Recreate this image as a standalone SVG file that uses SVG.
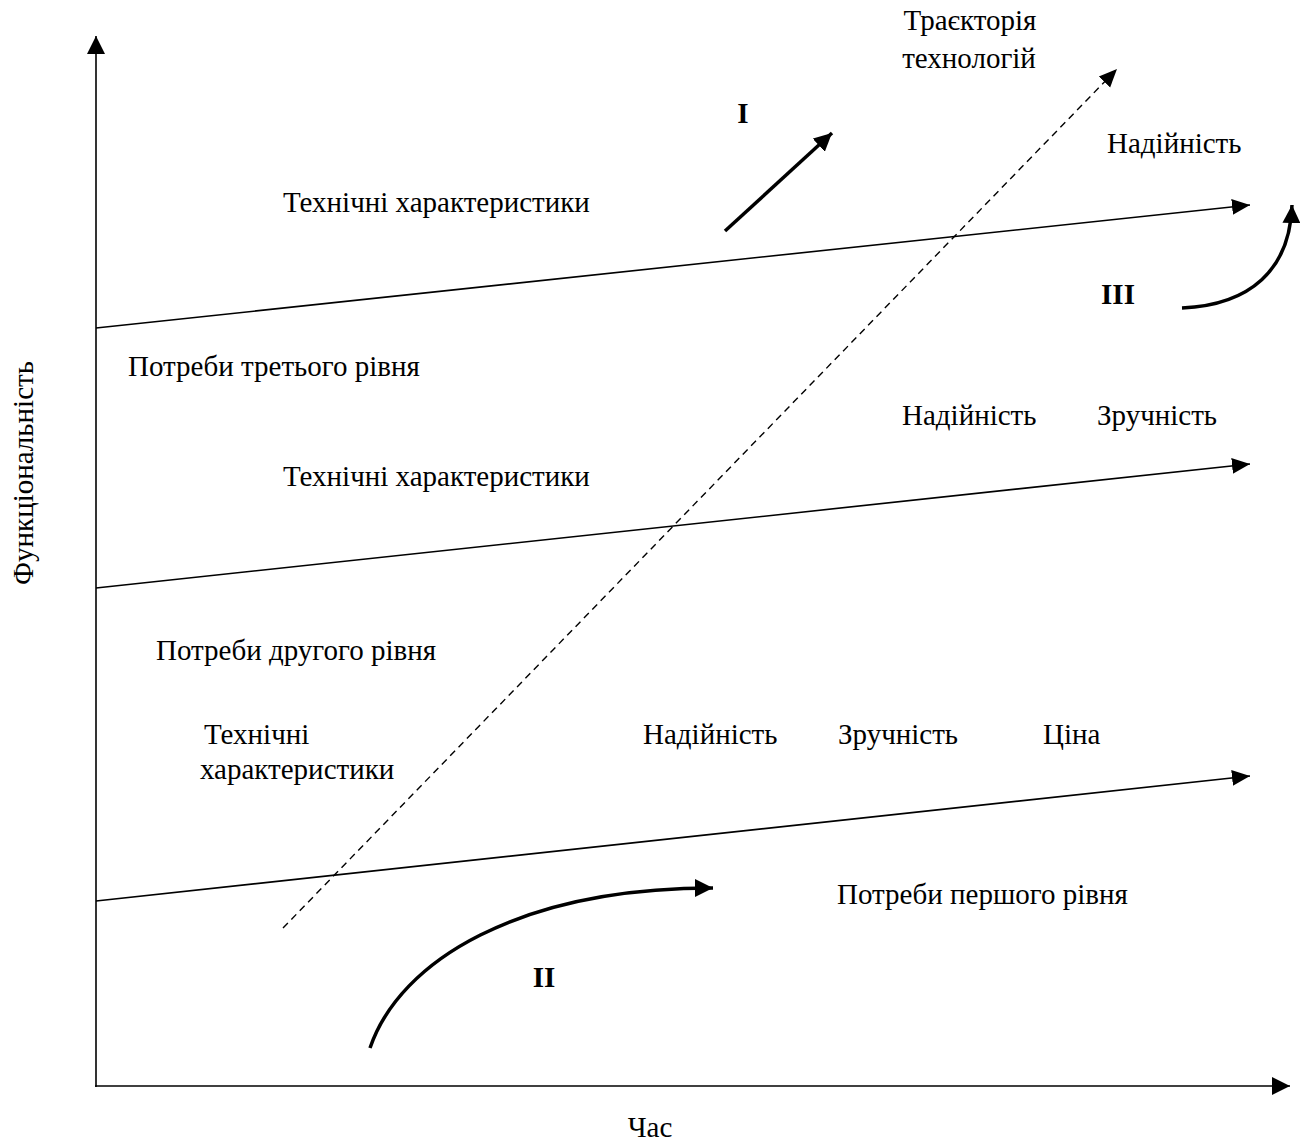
<svg xmlns="http://www.w3.org/2000/svg" width="1305" height="1142" viewBox="0 0 1305 1142">
<style>
text{font-family:"Liberation Serif","Times New Roman",serif;font-size:29px;fill:#000}
.b{font-weight:bold}
.ln{stroke:#000;stroke-width:1.6;fill:none}
.th{stroke:#000;stroke-width:3.5;fill:none}
.ds{stroke:#000;stroke-width:1.4;fill:none;stroke-dasharray:7,5}
</style>
<defs>
<marker id="ah" markerUnits="userSpaceOnUse" markerWidth="18" markerHeight="18" refX="16" refY="8" orient="auto" viewBox="0 0 16 16"><path d="M0,0 L16,8 L0,16 Z" fill="#000"/></marker>
<marker id="ahs" markerUnits="userSpaceOnUse" markerWidth="18" markerHeight="18" refX="16" refY="8" orient="auto" viewBox="0 0 16 16"><path d="M0,1 L16,8 L0,15 Z" fill="#000"/></marker>
</defs>
<rect width="1305" height="1142" fill="#fff"/>
<g id="connectors">
<line id="y-axis" class="ln" x1="96" y1="1087" x2="96" y2="36" marker-end="url(#ah)"/>
<line id="x-axis" class="ln" x1="95" y1="1086" x2="1290" y2="1086" marker-end="url(#ah)"/>
<line id="level3" class="ln" x1="96" y1="328" x2="1250" y2="205" marker-end="url(#ahs)"/>
<line id="level2" class="ln" x1="96" y1="588" x2="1250" y2="464" marker-end="url(#ahs)"/>
<line id="level1" class="ln" x1="96" y1="901" x2="1250" y2="776" marker-end="url(#ahs)"/>
<line id="trajectory" class="ds" x1="283" y1="928" x2="1117" y2="69" marker-end="url(#ahs)"/>
<line id="arrow-I" class="th" x1="725" y1="231" x2="832" y2="133" marker-end="url(#ah)"/>
<path id="arrow-II" class="th" d="M370,1048 C400,960 520,888 713,888" marker-end="url(#ah)"/>
<path id="arrow-III" class="th" d="M1182,308 C1250,305 1290,270 1292,205" marker-end="url(#ah)"/>
</g>
<g id="labels">
<text x="970" y="30" text-anchor="middle">Траєкторія</text>
<text x="969" y="68" text-anchor="middle">технологій</text>
<text class="b" x="743" y="123" text-anchor="middle">I</text>
<text x="1107" y="153">Надійність</text>
<text x="283" y="212">Технічні характеристики</text>
<text class="b" x="1118" y="304" text-anchor="middle">III</text>
<text x="128" y="376">Потреби третього рівня</text>
<text x="902" y="425">Надійність</text>
<text x="1097" y="425">Зручність</text>
<text x="283" y="486">Технічні характеристики</text>
<text x="156" y="660">Потреби другого рівня</text>
<text x="204" y="744">Технічні</text>
<text x="200" y="779">характеристики</text>
<text x="643" y="744">Надійність</text>
<text x="838" y="744">Зручність</text>
<text x="1043" y="744">Ціна</text>
<text x="837" y="904">Потреби першого рівня</text>
<text class="b" x="544" y="987" text-anchor="middle">II</text>
<text x="650" y="1137" text-anchor="middle">Час</text>
<text x="33" y="473" text-anchor="middle" transform="rotate(-90 33 473)">Функціональність</text>
</g>
</svg>
